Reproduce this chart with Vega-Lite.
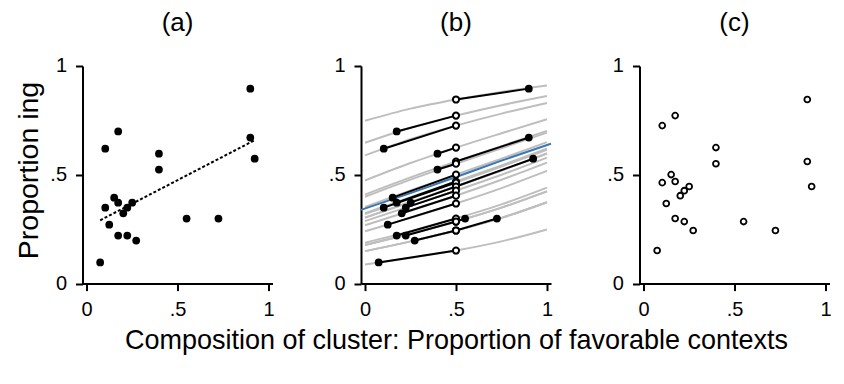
{
  "$schema": "https://vega.github.io/schema/vega-lite/v6.json",
  "background": "white",
  "padding": {"left": 14.5, "top": 10, "right": 5, "bottom": 5},
  "bounds": "flush",
  "spacing": 88.5,
  "config": {
    "font": "Liberation Sans",
    "view": {"stroke": null},
    "axis": {
      "grid": false, "domainColor": "black", "domainWidth": 2, "tickColor": "black", "tickWidth": 2,
      "tickSize": 7, "labelFontSize": 20, "labelColor": "black", "labelPadding": 9,
      "titleColor": "black", "titleFontWeight": "normal", "labelFont": "Liberation Sans", "titleFont": "Liberation Sans",
      "labelFlush": false, "labelOverlap": false, "labelBound": false
    },
    "title": {"fontSize": 26, "fontWeight": "normal", "color": "black", "frame": "group", "anchor": "middle", "baseline": "alphabetic", "offset": 20, "font": "Liberation Sans"}
  },
  "datasets": {
    "pts": [
      {"c": 1, "x": 0.900, "ya": 0.896, "yc": 0.846},
      {"c": 2, "x": 0.900, "ya": 0.671, "yc": 0.561},
      {"c": 3, "x": 0.924, "ya": 0.574, "yc": 0.446},
      {"c": 4, "x": 0.725, "ya": 0.299, "yc": 0.244},
      {"c": 5, "x": 0.550, "ya": 0.299, "yc": 0.285},
      {"c": 6, "x": 0.398, "ya": 0.597, "yc": 0.625},
      {"c": 7, "x": 0.398, "ya": 0.524, "yc": 0.551},
      {"c": 8, "x": 0.174, "ya": 0.699, "yc": 0.772},
      {"c": 9, "x": 0.174, "ya": 0.372, "yc": 0.469},
      {"c": 10, "x": 0.174, "ya": 0.221, "yc": 0.299},
      {"c": 11, "x": 0.103, "ya": 0.620, "yc": 0.726},
      {"c": 12, "x": 0.103, "ya": 0.349, "yc": 0.464},
      {"c": 13, "x": 0.152, "ya": 0.395, "yc": 0.501},
      {"c": 14, "x": 0.251, "ya": 0.372, "yc": 0.446},
      {"c": 15, "x": 0.224, "ya": 0.349, "yc": 0.427},
      {"c": 16, "x": 0.224, "ya": 0.221, "yc": 0.285},
      {"c": 17, "x": 0.202, "ya": 0.323, "yc": 0.404},
      {"c": 18, "x": 0.125, "ya": 0.271, "yc": 0.368},
      {"c": 19, "x": 0.273, "ya": 0.198, "yc": 0.244},
      {"c": 20, "x": 0.075, "ya": 0.097, "yc": 0.152}
    ],
    "curves": [
      {"c": 1, "x": 0, "y": 0.748}, {"c": 1, "x": 0.25, "y": 0.804}, {"c": 1, "x": 0.5, "y": 0.846}, {"c": 1, "x": 0.75, "y": 0.881}, {"c": 1, "x": 1, "y": 0.910},
      {"c": 2, "x": 0, "y": 0.409}, {"c": 2, "x": 0.25, "y": 0.488}, {"c": 2, "x": 0.5, "y": 0.561}, {"c": 2, "x": 0.75, "y": 0.632}, {"c": 2, "x": 1, "y": 0.702},
      {"c": 3, "x": 0, "y": 0.303}, {"c": 3, "x": 0.25, "y": 0.375}, {"c": 3, "x": 0.5, "y": 0.446}, {"c": 3, "x": 0.75, "y": 0.520}, {"c": 3, "x": 1, "y": 0.598},
      {"c": 4, "x": 0, "y": 0.149}, {"c": 4, "x": 0.25, "y": 0.194}, {"c": 4, "x": 0.5, "y": 0.244}, {"c": 4, "x": 0.75, "y": 0.302}, {"c": 4, "x": 1, "y": 0.374},
      {"c": 5, "x": 0, "y": 0.177}, {"c": 5, "x": 0.25, "y": 0.229}, {"c": 5, "x": 0.5, "y": 0.285}, {"c": 5, "x": 0.75, "y": 0.349}, {"c": 5, "x": 1, "y": 0.424},
      {"c": 6, "x": 0, "y": 0.474}, {"c": 6, "x": 0.25, "y": 0.554}, {"c": 6, "x": 0.5, "y": 0.625}, {"c": 6, "x": 0.75, "y": 0.691}, {"c": 6, "x": 1, "y": 0.755},
      {"c": 7, "x": 0, "y": 0.399}, {"c": 7, "x": 0.25, "y": 0.478}, {"c": 7, "x": 0.5, "y": 0.551}, {"c": 7, "x": 0.75, "y": 0.622}, {"c": 7, "x": 1, "y": 0.694},
      {"c": 8, "x": 0, "y": 0.647}, {"c": 8, "x": 0.25, "y": 0.716}, {"c": 8, "x": 0.5, "y": 0.772}, {"c": 8, "x": 0.75, "y": 0.820}, {"c": 8, "x": 1, "y": 0.862},
      {"c": 9, "x": 0, "y": 0.323}, {"c": 9, "x": 0.25, "y": 0.397}, {"c": 9, "x": 0.5, "y": 0.469}, {"c": 9, "x": 0.75, "y": 0.543}, {"c": 9, "x": 1, "y": 0.620},
      {"c": 10, "x": 0, "y": 0.188}, {"c": 10, "x": 0.25, "y": 0.241}, {"c": 10, "x": 0.5, "y": 0.299}, {"c": 10, "x": 0.75, "y": 0.364}, {"c": 10, "x": 1, "y": 0.441},
      {"c": 11, "x": 0, "y": 0.589}, {"c": 11, "x": 0.25, "y": 0.664}, {"c": 11, "x": 0.5, "y": 0.726}, {"c": 11, "x": 0.75, "y": 0.781}, {"c": 11, "x": 1, "y": 0.830},
      {"c": 12, "x": 0, "y": 0.319}, {"c": 12, "x": 0.25, "y": 0.392}, {"c": 12, "x": 0.5, "y": 0.464}, {"c": 12, "x": 0.75, "y": 0.538}, {"c": 12, "x": 1, "y": 0.615},
      {"c": 13, "x": 0, "y": 0.352}, {"c": 13, "x": 0.25, "y": 0.428}, {"c": 13, "x": 0.5, "y": 0.501}, {"c": 13, "x": 0.75, "y": 0.574}, {"c": 13, "x": 1, "y": 0.650},
      {"c": 14, "x": 0, "y": 0.303}, {"c": 14, "x": 0.25, "y": 0.375}, {"c": 14, "x": 0.5, "y": 0.446}, {"c": 14, "x": 0.75, "y": 0.520}, {"c": 14, "x": 1, "y": 0.598},
      {"c": 15, "x": 0, "y": 0.287}, {"c": 15, "x": 0.25, "y": 0.357}, {"c": 15, "x": 0.5, "y": 0.427}, {"c": 15, "x": 0.75, "y": 0.500}, {"c": 15, "x": 1, "y": 0.579},
      {"c": 16, "x": 0, "y": 0.177}, {"c": 16, "x": 0.25, "y": 0.229}, {"c": 16, "x": 0.5, "y": 0.285}, {"c": 16, "x": 0.75, "y": 0.349}, {"c": 16, "x": 1, "y": 0.424},
      {"c": 17, "x": 0, "y": 0.268}, {"c": 17, "x": 0.25, "y": 0.335}, {"c": 17, "x": 0.5, "y": 0.404}, {"c": 17, "x": 0.75, "y": 0.477}, {"c": 17, "x": 1, "y": 0.556},
      {"c": 18, "x": 0, "y": 0.240}, {"c": 18, "x": 0.25, "y": 0.302}, {"c": 18, "x": 0.5, "y": 0.368}, {"c": 18, "x": 0.75, "y": 0.439}, {"c": 18, "x": 1, "y": 0.518},
      {"c": 19, "x": 0, "y": 0.149}, {"c": 19, "x": 0.25, "y": 0.194}, {"c": 19, "x": 0.5, "y": 0.244}, {"c": 19, "x": 0.75, "y": 0.302}, {"c": 19, "x": 1, "y": 0.374},
      {"c": 20, "x": 0, "y": 0.088}, {"c": 20, "x": 0.25, "y": 0.118}, {"c": 20, "x": 0.5, "y": 0.152}, {"c": 20, "x": 0.75, "y": 0.194}, {"c": 20, "x": 1, "y": 0.249}
    ],
    "fit": [
      {"x": -0.022, "y": 0.339}, {"x": 0.25, "y": 0.416}, {"x": 0.5, "y": 0.490}, {"x": 0.75, "y": 0.565}, {"x": 1.022, "y": 0.643}
    ],
    "lin": [
      {"x": 0.075, "y": 0.291}, {"x": 0.924, "y": 0.659}
    ]
  },
  "hconcat": [
    {
      "width": 190, "height": 217.6,
      "title": "(a)",
      "layer": [
        {
          "data": {"name": "lin"},
          "mark": {"type": "line", "color": "black", "strokeWidth": 2, "strokeDash": [3, 2]},
          "encoding": {
            "x": {"field": "x", "type": "quantitative", "scale": {"domain": [-0.022, 1.022], "nice": false, "zero": false},
              "axis": {"values": [0, 0.5, 1], "labelExpr": "datum.value == 0.5 ? '.5' : (datum.value == 0 ? '0' : '1')", "title": null}},
            "y": {"field": "y", "type": "quantitative", "scale": {"domain": [0, 1], "nice": false},
              "axis": {"values": [0, 0.5, 1], "labelExpr": "datum.value == 0.5 ? '.5' : (datum.value == 0 ? '0' : '1')", "title": "Proportion ing", "titleFontSize": 28.5, "titlePadding": 6, "titleY": 104}}
          }
        },
        {
          "data": {"name": "pts"},
          "mark": {"type": "circle", "size": 60, "color": "black", "opacity": 1},
          "encoding": {
            "x": {"field": "x", "type": "quantitative"},
            "y": {"field": "ya", "type": "quantitative"}
          }
        }
      ]
    },
    {
      "width": 190, "height": 217.6,
      "title": "(b)",
      "layer": [
        {
          "data": {"name": "curves"},
          "mark": {"type": "line", "color": "#bebebe", "strokeWidth": 2, "interpolate": "monotone"},
          "encoding": {
            "x": {"field": "x", "type": "quantitative", "scale": {"domain": [-0.022, 1.022], "nice": false, "zero": false},
              "axis": {"values": [0, 0.5, 1], "labelExpr": "datum.value == 0.5 ? '.5' : (datum.value == 0 ? '0' : '1')", "title": "Composition of cluster: Proportion of favorable contexts", "titleFontSize": 27, "titlePadding": 8}},
            "y": {"field": "y", "type": "quantitative", "scale": {"domain": [0, 1], "nice": false},
              "axis": {"values": [0, 0.5, 1], "labelExpr": "datum.value == 0.5 ? '.5' : (datum.value == 0 ? '0' : '1')", "title": null}},
            "detail": {"field": "c", "type": "nominal"}
          }
        },
        {
          "data": {"name": "fit"},
          "mark": {"type": "line", "color": "#3a78b5", "strokeWidth": 2, "interpolate": "monotone"},
          "encoding": {
            "x": {"field": "x", "type": "quantitative"},
            "y": {"field": "y", "type": "quantitative"}
          }
        },
        {
          "data": {"name": "pts"},
          "mark": {"type": "rule", "color": "black", "strokeWidth": 2},
          "encoding": {
            "x": {"field": "x", "type": "quantitative"},
            "y": {"field": "ya", "type": "quantitative"},
            "x2": {"datum": 0.5},
            "y2": {"field": "yc"}
          }
        },
        {
          "data": {"name": "pts"},
          "mark": {"type": "circle", "size": 60, "color": "black", "opacity": 1},
          "encoding": {
            "x": {"field": "x", "type": "quantitative"},
            "y": {"field": "ya", "type": "quantitative"}
          }
        },
        {
          "data": {"name": "pts"},
          "mark": {"type": "point", "shape": "circle", "size": 38, "fill": "white", "stroke": "black", "strokeWidth": 2, "filled": true, "opacity": 1},
          "encoding": {
            "x": {"datum": 0.5, "type": "quantitative"},
            "y": {"field": "yc", "type": "quantitative"}
          }
        }
      ]
    },
    {
      "width": 190, "height": 217.6,
      "title": "(c)",
      "data": {"name": "pts"},
      "mark": {"type": "point", "shape": "circle", "size": 34, "fill": "white", "stroke": "black", "strokeWidth": 1.8, "filled": true, "opacity": 1},
      "encoding": {
        "x": {"field": "x", "type": "quantitative", "scale": {"domain": [-0.022, 1.022], "nice": false, "zero": false},
          "axis": {"values": [0, 0.5, 1], "labelExpr": "datum.value == 0.5 ? '.5' : (datum.value == 0 ? '0' : '1')", "title": null}},
        "y": {"field": "yc", "type": "quantitative", "scale": {"domain": [0, 1], "nice": false},
          "axis": {"values": [0, 0.5, 1], "labelExpr": "datum.value == 0.5 ? '.5' : (datum.value == 0 ? '0' : '1')", "title": null}}
      }
    }
  ]
}
